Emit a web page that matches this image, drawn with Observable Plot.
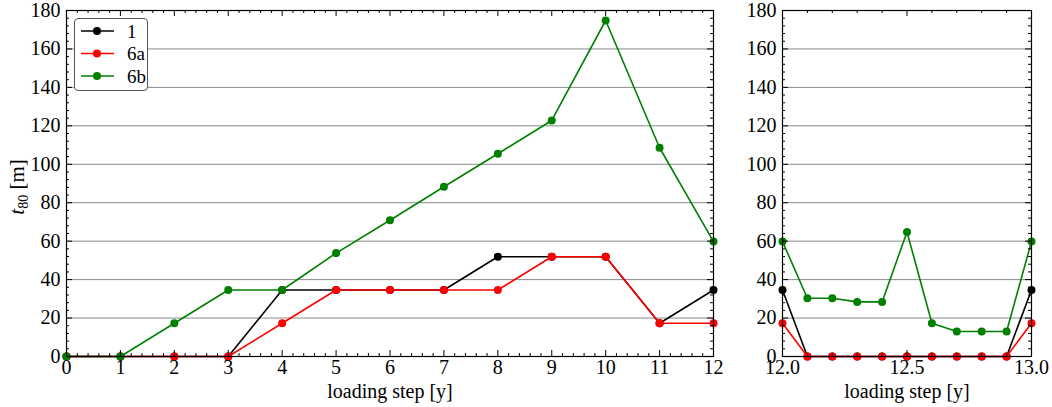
<!DOCTYPE html>
<html><head><meta charset="utf-8">
<script src="https://cdn.jsdelivr.net/npm/d3@7"></script>
<script src="https://cdn.jsdelivr.net/npm/@observablehq/plot@0.6"></script>
<style>
body{margin:0;background:#fff;}
#wrap{position:relative;width:1052px;height:407px;display:flex;font-family:"Liberation Serif","DejaVu Serif",serif;}
#wrap svg{display:block;}
#wrap svg text{font-family:"Liberation Serif","DejaVu Serif",serif !important;}
#ylab{position:absolute;left:18px;top:187px;transform:translate(-50%,-50%) rotate(-90deg);font-size:21px;white-space:nowrap;color:#000;font-family:"Liberation Serif","DejaVu Serif",serif;}
#ylab sub{font-size:14px;vertical-align:-4px;}
#legend{position:absolute;left:74px;top:18px;width:72px;height:71px;border:1px solid #555;border-radius:4px;background:#fff;}
</style></head><body>
<div id="wrap"><div id="ylab"><i>t</i><sub>80</sub> [m]</div><div id="legend"></div></div>
<script>
// ---- data ----
const seriesNames = ["1", "6a", "6b"];
const seriesColors = ["#000000", "#ff0000", "#008000"];

const stepsLeft = [0, 1, 2, 3, 4, 5, 6, 7, 8, 9, 10, 11, 12];
const s1Left  = [0, 0, 0, 0, 34.6, 34.6, 34.6, 34.6, 51.9, 51.9, 51.9, 17.3, 34.6];
const s6aLeft = [0, 0, 0, 0, 17.3, 34.6, 34.6, 34.6, 34.6, 51.9, 51.9, 17.3, 17.3];
const s6bLeft = [0, 0, 17.3, 34.6, 34.6, 53.8, 70.9, 88.3, 105.5, 122.8, 174.8, 108.6, 59.8];

const stepsRight = [12.0, 12.1, 12.2, 12.3, 12.4, 12.5, 12.6, 12.7, 12.8, 12.9, 13.0];
const s1Right  = [34.6, 0, 0, 0, 0, 0, 0, 0, 0, 0, 34.6];
const s6aRight = [17.3, 0, 0, 0, 0, 0, 0, 0, 0, 0, 17.3];
const s6bRight = [59.8, 30.3, 30.3, 28.4, 28.4, 64.8, 17.3, 13.0, 13.0, 13.0, 59.8];

const yMajor = [0, 20, 40, 60, 80, 100, 120, 140, 160, 180];
const yMinor = d3.range(0, 181, 4).filter(v => v % 20 !== 0);
const xMajorLeft = [0, 1, 2, 3, 4, 5, 6, 7, 8, 9, 10, 11, 12];
const xMinorLeft = d3.range(0, 12.001, 0.2).map(v => +v.toFixed(1)).filter(v => v % 1 !== 0);
const xMajorRight = [12.0, 12.5, 13.0];
const xMinorRight = d3.range(12, 13.001, 0.1).map(v => +v.toFixed(1)).filter(v => !xMajorRight.includes(v));
const gridY = [20, 40, 60, 80, 100, 120, 140, 160];
const xLabel = "loading step [y]";
const FONT = '"Liberation Serif","DejaVu Serif",serif';

function makePanel(steps, seriesVals, opts) {
  const {width, ml, mr, xDomain, xMajor, xMinor, fmt} = opts;
  const height = 407, mt = 10, mb = 51;
  const pw = width - ml - mr, ph = height - mt - mb;
  const marks = [];
  marks.push(Plot.ruleY(gridY, {stroke: "#8a8a8a", strokeWidth: 1}));
  seriesVals.forEach((vals, i) => {
    const d = steps.map((x, j) => ({x, y: vals[j]}));
    marks.push(Plot.line(d, {x: "x", y: "y", stroke: seriesColors[i], strokeWidth: 1.6}));
    marks.push(Plot.dot(d, {x: "x", y: "y", fill: seriesColors[i], r: 4}));
  });
  marks.push(Plot.frame({stroke: "#000", strokeWidth: 1.2}));
  // inward ticks on all four sides
  marks.push(Plot.tickY(yMajor, {y: d => d, stroke: "#000", insetRight: pw - 6}));
  marks.push(Plot.tickY(yMajor, {y: d => d, stroke: "#000", insetLeft: pw - 6}));
  marks.push(Plot.tickY(yMinor, {y: d => d, stroke: "#000", insetRight: pw - 3}));
  marks.push(Plot.tickY(yMinor, {y: d => d, stroke: "#000", insetLeft: pw - 3}));
  marks.push(Plot.tickX(xMajor, {x: d => d, stroke: "#000", insetTop: ph - 6}));
  marks.push(Plot.tickX(xMajor, {x: d => d, stroke: "#000", insetBottom: ph - 6}));
  marks.push(Plot.tickX(xMinor, {x: d => d, stroke: "#000", insetTop: ph - 3}));
  marks.push(Plot.tickX(xMinor, {x: d => d, stroke: "#000", insetBottom: ph - 3}));
  marks.push(Plot.axisY(yMajor, {tickSize: 0, tickPadding: 6, fontSize: 20, fontFamily: FONT, label: null, fill: "#000"}));
  marks.push(Plot.axisX(xMajor, {tickSize: 0, tickPadding: 3, fontSize: 20, fontFamily: FONT, label: null, tickFormat: fmt, fill: "#000"}));
  marks.push(Plot.text([xLabel], {text: d => d, frameAnchor: "bottom", dy: 41, fontSize: 20, fontFamily: FONT, fill: "#000"}));
  return Plot.plot({
    width, height, marginLeft: ml, marginRight: mr, marginTop: mt, marginBottom: mb,
    style: {fontFamily: FONT, background: "#fff", overflow: "visible"},
    x: {domain: xDomain},
    y: {domain: [0, 180]},
    marks
  });
}

const wrap = document.getElementById("wrap");
wrap.appendChild(makePanel(stepsLeft, [s1Left, s6aLeft, s6bLeft],
  {width: 730, ml: 66, mr: 17, xDomain: [0, 12], xMajor: xMajorLeft, xMinor: xMinorLeft, fmt: d3.format("d")}));
wrap.appendChild(makePanel(stepsRight, [s1Right, s6aRight, s6bRight],
  {width: 322, ml: 52, mr: 21, xDomain: [12, 13], xMajor: xMajorRight, xMinor: xMinorRight, fmt: d3.format(".1f")}));

// legend
const lg = d3.select("#legend").append("svg").attr("width", 72).attr("height", 71);
seriesNames.forEach((name, i) => {
  const cy = 12 + i * 22.5;
  lg.append("line").attr("x1", 6).attr("x2", 39).attr("y1", cy).attr("y2", cy)
    .attr("stroke", seriesColors[i]).attr("stroke-width", 1.6);
  lg.append("circle").attr("cx", 22).attr("cy", cy).attr("r", 4).attr("fill", seriesColors[i]);
  lg.append("text").attr("x", 52).attr("y", cy).attr("dy", "0.35em").attr("font-size", 19)
    .attr("font-family", FONT).text(name);
});
</script>
</body></html>
